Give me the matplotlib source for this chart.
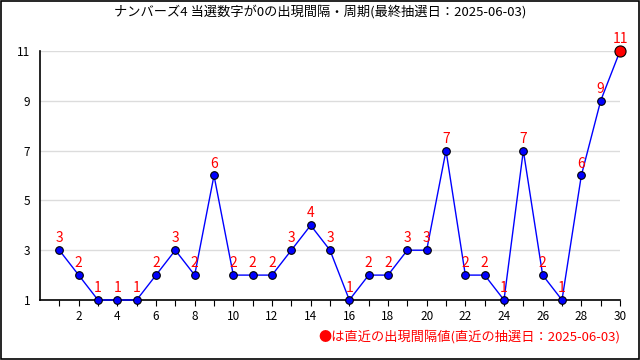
import matplotlib
matplotlib.use("Agg")
import matplotlib.pyplot as plt
from matplotlib.patches import Rectangle

plt.rcParams['font.family'] = ['Noto Sans CJK JP', 'DejaVu Sans']

# draw numbers 1..30 and interval values
draws = list(range(1, 31))
intervals = [3, 2, 1, 1, 1, 2, 3, 2, 6, 2, 2, 2, 3, 4, 3, 1, 2, 2, 3, 3,
             7, 2, 2, 1, 7, 2, 1, 6, 9, 11]
yticks = [1, 3, 5, 7, 9, 11]
title = "ナンバーズ4 当選数字が0の出現間隔・周期(最終抽選日：2025-06-03)"
note = "●は直近の出現間隔値(直近の抽選日：2025-06-03)"

fig = plt.figure(figsize=(6.4, 3.6), dpi=100)
ax = fig.add_axes([40 / 640, 60 / 360, 580 / 640, 249 / 360])

ax.plot(draws, intervals, color='blue', lw=1, zorder=3, clip_on=False)
ax.plot(draws[:-1], intervals[:-1], 'o', color='blue', mec='black', mew=0.8,
        ms=5.5, zorder=4, clip_on=False)
ax.plot(draws[-1:], intervals[-1:], 'o', color='red', mec='black', mew=0.8,
        ms=8, zorder=5, clip_on=False)
for x, y in zip(draws, intervals):
    ax.annotate(str(y), (x, y), xytext=(0, 3.5), textcoords='offset points',
                ha='center', va='bottom', color='red', fontsize=10, zorder=6)

ax.set_xlim(0, 30)
ax.set_ylim(1, 11)
ax.set_xticks(draws)
ax.set_xticklabels([str(d) if d % 2 == 0 else '' for d in draws])
ax.set_yticks(yticks)
ax.tick_params(axis='x', direction='out', length=4, labelsize=8.5, pad=3)
ax.tick_params(axis='y', length=0, labelsize=8.5, pad=7)
ax.grid(axis='y', color='#dcdcdc', lw=1)
ax.set_axisbelow(True)
for s in ['top', 'right']:
    ax.spines[s].set_visible(False)
for s in ['left', 'bottom']:
    ax.spines[s].set_linewidth(1.2)

fig.text(0.5, 1 - 12 / 360, title, ha='center', va='center', fontsize=9.5)
fig.text(620 / 640, 1 - 337 / 360, note, ha='right', va='center',
         fontsize=9.5, color='red')
fig.patches.append(Rectangle((0.001, 0.002), 0.997, 0.996, transform=fig.transFigure,
                             fill=False, ec='black', lw=1.2))

fig.savefig("out.png", dpi=100)
